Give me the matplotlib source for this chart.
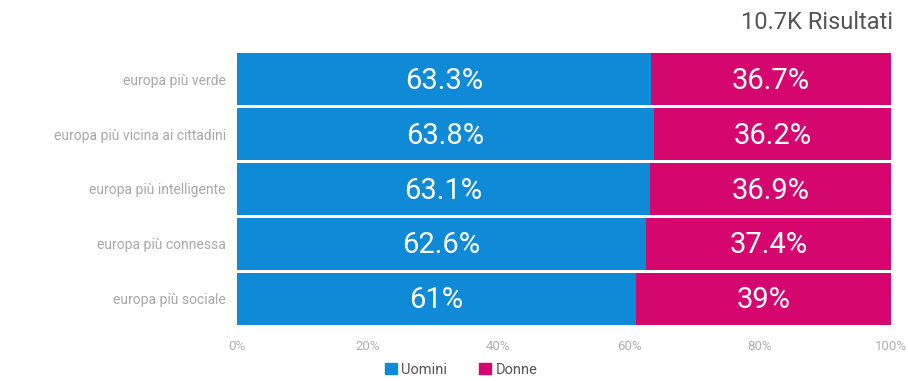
import matplotlib.pyplot as plt
from matplotlib.patches import Patch

plt.rcParams['font.family'] = ['Roboto', 'DejaVu Sans']

categories = ['europa più verde', 'europa più vicina ai cittadini',
              'europa più intelligente', 'europa più connessa', 'europa più sociale']
uomini = [63.3, 63.8, 63.1, 62.6, 61.0]
donne = [36.7, 36.2, 36.9, 37.4, 39.0]
series_names = ['Uomini', 'Donne']
xticks = [0, 20, 40, 60, 80, 100]

blue = '#0e8ad6'
pink = '#d5076e'

fig = plt.figure(figsize=(9.08, 3.81), dpi=100)
ax = fig.add_axes([0.261, 0.144, 0.72, 0.72])

y = list(range(len(categories)))
ax.barh(y, uomini, height=0.95, color=blue, edgecolor='none')
ax.barh(y, donne, left=uomini, height=0.95, color=pink, edgecolor='none')


def fmt(v):
    return f'{v:g}%'


for yi, u, d in zip(y, uomini, donne):
    ax.text(u / 2, yi + 0.03, fmt(u), color='white', fontsize=21,
            ha='center', va='center')
    ax.text(u + d / 2, yi + 0.03, fmt(d), color='white', fontsize=21,
            ha='center', va='center')

ax.set_xlim(0, 100)
ax.set_ylim(len(categories) - 0.5, -0.5)
ax.set_yticks(y)
ax.set_yticklabels(categories, fontsize=10, color='#a8a8a8')
ax.set_xticks(xticks)
ax.set_xticklabels([f'{t}%' for t in xticks], fontsize=9.5, color='#b0b0b0')
ax.tick_params(axis='y', length=0, pad=8)
ax.tick_params(axis='x', length=0, pad=10)
for s in ax.spines.values():
    s.set_visible(False)

fig.text(0.984, 0.94, '10.7K Risultati', fontsize=17, color='#555555', ha='right', va='center')

handles = [Patch(color=blue), Patch(color=pink)]
fig.legend(handles, series_names, loc='center', bbox_to_anchor=(0.508, 0.03), ncol=2,
           frameon=False, fontsize=10.5, handlelength=0.8, handleheight=0.8,
           handletextpad=0.3, columnspacing=2.2, labelcolor='#555555',
           borderpad=0, borderaxespad=0)

fig.savefig('out.png', dpi=100)
